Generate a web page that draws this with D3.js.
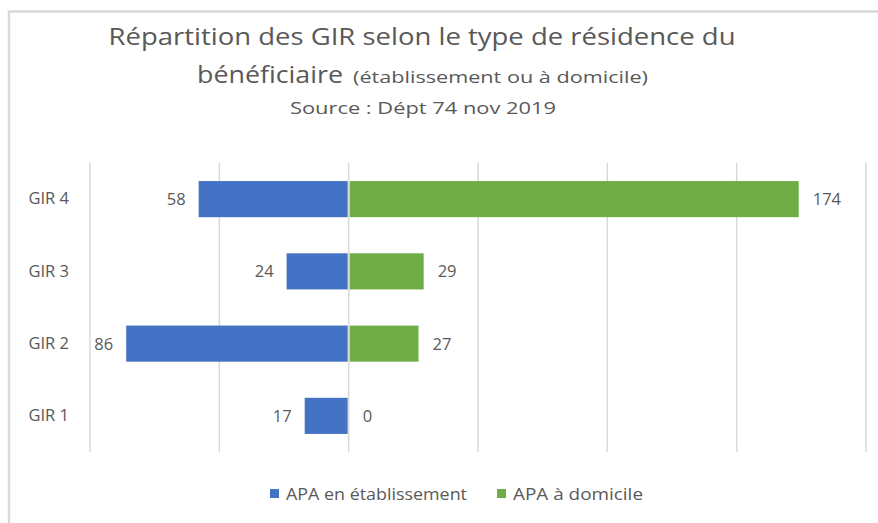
<!DOCTYPE html>
<html>
<head>
<meta charset="utf-8">
<script src="https://cdn.jsdelivr.net/npm/d3@7/dist/d3.min.js"></script>
<style>
  html, body { margin: 0; padding: 0; background: #fff; }
  svg { display: block; font-family: "Open Sans", "Noto Sans", sans-serif; }
</style>
</head>
<body>
<svg id="chart" width="878" height="523"></svg>
<script>
// GIR levels, top to bottom
const categories = ["GIR 4", "GIR 3", "GIR 2", "GIR 1"];
// Beneficiaries living in an institution (drawn to the left)
const etablissement = [58, 24, 86, 17];
// Beneficiaries living at home (drawn to the right)
const domicile = [174, 29, 27, 0];
// Vertical gridline positions
const gridTicks = [-100, -50, 0, 50, 100, 150, 200];
const seriesNames = ["APA en établissement", "APA à domicile"];
const seriesColors = ["#4472C4", "#70AD47"];

const svg = d3.select("#chart");
const textColor = "#595959";

// Chart frame
svg.append("path")
  .attr("d", "M9,523 V11.5 H878")
  .attr("fill", "none")
  .attr("stroke", "#d9d9d9")
  .attr("stroke-width", 2.5);

// Title block
const title = svg.append("g").attr("fill", textColor).attr("text-anchor", "middle");
title.append("text")
  .attr("x", 422).attr("y", 45)
  .attr("font-size", 24)
  .attr("textLength", 627).attr("lengthAdjust", "spacingAndGlyphs")
  .text("Répartition des GIR selon le type de résidence du");
title.append("text")
  .attr("x", 197).attr("y", 83)
  .attr("text-anchor", "start")
  .attr("font-size", 24)
  .attr("textLength", 146).attr("lengthAdjust", "spacingAndGlyphs")
  .text("bénéficiaire");
title.append("text")
  .attr("x", 353).attr("y", 83)
  .attr("text-anchor", "start")
  .attr("font-size", 17)
  .attr("textLength", 295).attr("lengthAdjust", "spacingAndGlyphs")
  .text("(établissement ou à domicile)");
title.append("text")
  .attr("x", 423).attr("y", 114)
  .attr("font-size", 17)
  .attr("textLength", 266).attr("lengthAdjust", "spacingAndGlyphs")
  .text("Source : Dépt 74 nov 2019");

// Scales
const x = d3.scaleLinear().domain([-100, 200]).range([90, 866]);
const y = d3.scaleBand().domain(categories).range([163, 452])
  .paddingInner(0.5).paddingOuter(0.25);

// Gridlines
svg.append("g").selectAll("line").data(gridTicks).join("line")
  .attr("x1", d => x(d)).attr("x2", d => x(d))
  .attr("y1", 163).attr("y2", 452)
  .attr("stroke", "#d9d9d9").attr("stroke-width", 1.5);

const rows = categories.map((c, i) => ({ cat: c, left: etablissement[i], right: domicile[i] }));

// Institution bars (negative side)
svg.append("g").selectAll("rect").data(rows).join("rect")
  .attr("x", d => x(-d.left))
  .attr("y", d => y(d.cat))
  .attr("width", d => x(0) - x(-d.left) - 1)
  .attr("height", y.bandwidth())
  .attr("fill", seriesColors[0]);

// Home bars (positive side)
svg.append("g").selectAll("rect").data(rows).join("rect")
  .attr("x", x(0) + 1)
  .attr("y", d => y(d.cat))
  .attr("width", d => Math.max(0, x(d.right) - x(0) - 1))
  .attr("height", y.bandwidth())
  .attr("fill", seriesColors[1]);

// Value labels
const labels = svg.append("g").attr("fill", textColor).attr("font-size", 16.5);
labels.selectAll("text.l").data(rows).join("text").attr("class", "l")
  .attr("x", d => x(-d.left) - 13)
  .attr("y", d => y(d.cat) + y.bandwidth() / 2)
  .attr("dy", "0.36em")
  .attr("text-anchor", "end")
  .text(d => d.left);
labels.selectAll("text.r").data(rows).join("text").attr("class", "r")
  .attr("x", d => x(d.right) + 14)
  .attr("y", d => y(d.cat) + y.bandwidth() / 2)
  .attr("dy", "0.36em")
  .attr("text-anchor", "start")
  .text(d => d.right);

// Category axis
const yAxis = svg.append("g")
  .attr("transform", "translate(69,0)")
  .call(d3.axisLeft(y).tickSize(0).tickPadding(0));
yAxis.select(".domain").remove();
yAxis.selectAll("text")
  .attr("fill", textColor)
  .attr("font-size", 16.5)
  .attr("font-family", "'Open Sans', 'Noto Sans', sans-serif");

// Legend
const legendItems = [
  { name: seriesNames[0], color: seriesColors[0], x: 270, w: 181 },
  { name: seriesNames[1], color: seriesColors[1], x: 497, w: 130 }
];
const legend = svg.append("g");
legendItems.forEach(item => {
  legend.append("rect")
    .attr("x", item.x).attr("y", 489)
    .attr("width", 9).attr("height", 9)
    .attr("fill", item.color);
  legend.append("text")
    .attr("x", item.x + 16).attr("y", 499.5)
    .attr("fill", textColor)
    .attr("font-size", 16.5)
    .attr("textLength", item.w).attr("lengthAdjust", "spacingAndGlyphs")
    .text(item.name);
});
</script>
</body>
</html>
